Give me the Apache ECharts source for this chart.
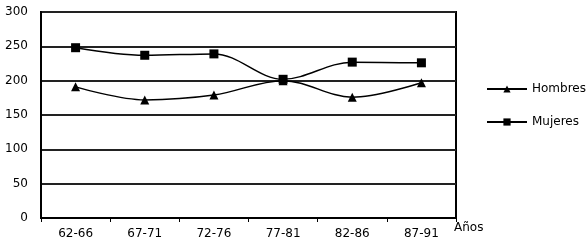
<!DOCTYPE html>
<html>
<head>
<meta charset="utf-8">
<script src="https://cdn.jsdelivr.net/npm/echarts@6/dist/echarts.min.js"></script>
<style>html,body{margin:0;padding:0;background:#fff}#c{width:587px;height:244px}</style>
</head>
<body>
<div id="c"></div>
<script>
const categories = ['62-66', '67-71', '72-76', '77-81', '82-86', '87-91'];
const hombres = [191, 172, 179, 200, 176, 197];
const mujeres = [248, 237, 239, 202, 227, 226];
const seriesNames = ['Hombres', 'Mujeres'];
const xAxisName = 'Años';

const font = 'DejaVu Sans';
const chart = echarts.init(document.getElementById('c'), null, {renderer: 'canvas'});
chart.setOption({
  animation: false,
  backgroundColor: '#fff',
  textStyle: {fontFamily: font},
  grid: {left: 41, right: 131, top: 12, bottom: 26, show: true, borderColor: '#000', borderWidth: 2, backgroundColor: 'transparent'},
  legend: {
    orient: 'vertical', left: 481, top: 78,
    itemWidth: 40, itemHeight: 9, itemGap: 21,
    textStyle: {fontFamily: font, fontSize: 12, color: '#000'},
    data: seriesNames
  },
  xAxis: {
    type: 'category', data: categories,
    name: xAxisName, nameLocation: 'end', nameGap: 0,
    nameTextStyle: {fontFamily: font, fontSize: 12, color: '#000', verticalAlign: 'top', lineHeight: 14, padding: [3, 0, 0, -2]},
    axisLine: {lineStyle: {color: '#000', width: 2}},
    axisTick: {show: true, length: 4, lineStyle: {color: '#000', width: 1}},
    axisLabel: {fontFamily: font, fontSize: 12, color: '#000', margin: 10},
    splitLine: {show: false}
  },
  yAxis: {
    type: 'value', min: 0, max: 300, interval: 50,
    axisLine: {show: true, lineStyle: {color: '#000', width: 2}},
    axisTick: {show: false},
    axisLabel: {fontFamily: font, fontSize: 12, color: '#000', margin: 13},
    splitLine: {show: true, lineStyle: {color: '#222', width: 2}}
  },
  series: [
    {
      name: seriesNames[0], type: 'line', data: hombres, smooth: 0.35,
      symbol: 'triangle', symbolSize: 9,
      lineStyle: {color: '#000', width: 1.5},
      itemStyle: {color: '#000'}
    },
    {
      name: seriesNames[1], type: 'line', data: mujeres, smooth: 0.35,
      symbol: 'rect', symbolSize: 9,
      lineStyle: {color: '#000', width: 1.5},
      itemStyle: {color: '#000'}
    }
  ]
});
</script>
</body>
</html>
